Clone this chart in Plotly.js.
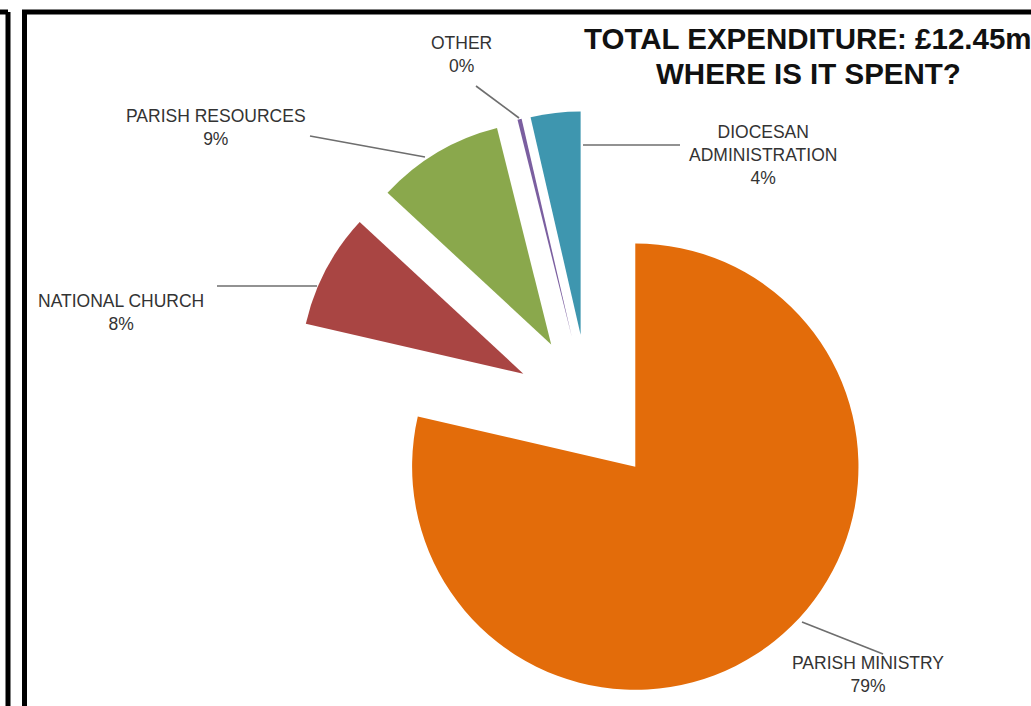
<!DOCTYPE html>
<html><head><meta charset="utf-8">
<script src="https://cdn.plot.ly/plotly-3.0.1.min.js"></script>
<style>html,body{margin:0;padding:0;background:#fff;overflow:hidden}#chart{width:1031px;height:706px}</style>
</head><body><div id="chart"></div>
<script>
const categories = ['PARISH MINISTRY','NATIONAL CHURCH','PARISH RESOURCES','OTHER','DIOCESAN ADMINISTRATION'];
const shares = [78.6, 8.3, 9.2, 0.3, 3.6];
const pctLabels = ['79%','8%','9%','0%','4%'];
const labelLines = [['PARISH MINISTRY'],['NATIONAL CHURCH'],['PARISH RESOURCES'],['OTHER'],['DIOCESAN','ADMINISTRATION']];
const colors = ['#E36C0A','#A94543','#8AA84C','#7B5FA0','#3E96AF'];
const titleLines = ['TOTAL EXPENDITURE: £12.45m','WHERE IS IT SPENT?'];

const W=1031, H=706, M={l:291, r:144, t:111, b:0};
const pw=W-M.l-M.r, ph=H-M.t-M.b;
function px(x){return (x-M.l)/pw;}
function py(y){return 1-(y-M.t)/ph;}

// label layout (pixel positions of label centres and leader lines)
const labelPos = [[868,674],[121,312],[216,127],[461,55],[763,155]];
const leaders = [[802,622,883,654],[217,286,317,286],[310,136,425,157],[476,86,519,118],[583,145,680,145]];

const annotations = categories.map((c,i)=>({
  xref:'paper', yref:'paper', x:px(labelPos[i][0]), y:py(labelPos[i][1]),
  xanchor:'center', yanchor:'middle', showarrow:false, align:'center',
  text: labelLines[i].concat([pctLabels[i]]).join('<br>'),
  font:{family:'Liberation Sans, Arial, sans-serif', size:17.5, color:'#333'}
}));
const titleY=[38,73];
titleLines.forEach((t,i)=>annotations.push({
  xref:'paper', yref:'paper', x:px(808), y:py(titleY[i]), xanchor:'center', yanchor:'middle',
  showarrow:false, text:'<b>'+t+'</b>',
  font:{family:'Liberation Sans, Arial, sans-serif', size:29.5, color:'#111'}
}));

const shapes = leaders.map(l=>({type:'line', xref:'paper', yref:'paper',
  x0:px(l[0]), y0:py(l[1]), x1:px(l[2]), y1:py(l[3]), line:{color:'#6e6e6e', width:1.6}}));
const borders = [[22,12,1031,12],[24.5,12,24.5,706],[8,12,8,706],[0,12,8,12]];
borders.forEach(b=>shapes.push({type:'line', xref:'paper', yref:'paper',
  x0:px(b[0]), y0:py(b[1]), x1:px(b[2]), y1:py(b[3]), line:{color:'#000', width:5}}));

const trace = {
  type:'pie', labels:categories, values:shares, sort:false, direction:'clockwise', rotation:0,
  pull:categories.map(()=>0.333), marker:{colors:colors, line:{width:0}},
  textinfo:'none', hoverinfo:'label+percent', showlegend:false
};
Plotly.newPlot('chart',[trace],{
  width:W, height:H, margin:M, paper_bgcolor:'#fff', plot_bgcolor:'#fff',
  showlegend:false, annotations:annotations, shapes:shapes
},{displayModeBar:false, staticPlot:true});
</script></body></html>
